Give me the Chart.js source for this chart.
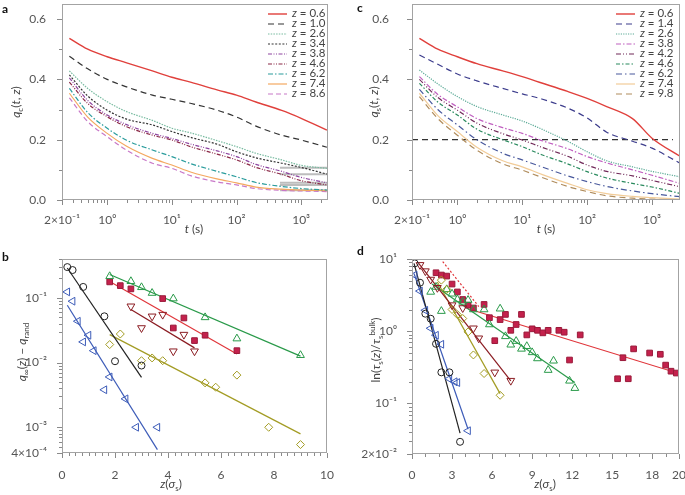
<!DOCTYPE html>
<html>
<head>
<meta charset="utf-8">
<script src="https://cdn.jsdelivr.net/npm/chart.js@4.4.0/dist/chart.umd.min.js"></script>
<style>
body { margin: 0; background: #fff; overflow: hidden; }
#fig { position: relative; width: 685px; height: 495px; font-family: Lato, "Open Sans", sans-serif; color: #444; }
canvas { position: absolute; }
.t { position: absolute; font-size: 12px; white-space: nowrap; transform: translate(-50%, -50%); }
.v { transform: translate(-50%, -50%) rotate(-90deg); }
.t sub, .t sup { font-size: 8px; line-height: 0; }
.p { position: absolute; font-weight: bold; font-size: 12px; color: #111; }
</style>
</head>
<body>
<div id="fig">
  <canvas id="ca" width="342" height="235" style="left:0;top:0"></canvas>
  <canvas id="cc" width="343" height="235" style="left:342px;top:0"></canvas>
  <canvas id="cb" width="342" height="260" style="left:0;top:235px"></canvas>
  <canvas id="cd" width="343" height="260" style="left:342px;top:235px"></canvas>

  <div class="p" style="left:2px;top:1px">a</div>
  <div class="p" style="left:357px;top:0">c</div>
  <div class="p" style="left:2px;top:249px">b</div>
  <div class="p" style="left:357px;top:243px">d</div>

  <div class="t" style="left:194px;top:228px"><i>t</i> (s)</div>
  <div class="t" style="left:546px;top:228px"><i>t</i> (s)</div>
  <div class="t v" style="left:15px;top:102px"><i>q</i><sub>c</sub>(<i>t</i>, <i>z</i>)</div>
  <div class="t v" style="left:373px;top:102px"><i>q</i><sub>s</sub>(<i>t</i>, <i>z</i>)</div>
  <div class="t" style="left:171px;top:483px"><i>z</i>(<i>σ</i><sub>s</sub>)</div>
  <div class="t" style="left:545px;top:483px"><i>z</i>(<i>σ</i><sub>s</sub>)</div>
  <div class="t v" style="left:21px;top:352px"><i>q</i><sub>∞</sub>(<i>z</i>) − <i>q</i><sub>rand</sub></div>
  <div class="t v" style="left:375px;top:350px">ln(<i>τ</i><sub>s</sub>(<i>z</i>)/<i>τ</i><sub>s</sub><sup>bulk</sup>)</div>
</div>

<script>
// ---- panel a : q_c(t, z) ----
const qcT = [0.26, 0.5, 1, 2, 5, 10, 20, 50, 100, 200, 500, 1000, 2500];
const qcZ = [0.6, 1.0, 2.6, 3.4, 3.8, 4.6, 6.2, 7.4, 8.6];
const qc06 = [0.536, 0.50, 0.475, 0.455, 0.428, 0.407, 0.39, 0.365, 0.348, 0.325, 0.297, 0.271, 0.232];
const qc10 = [0.477, 0.435, 0.40, 0.375, 0.348, 0.334, 0.32, 0.298, 0.275, 0.245, 0.215, 0.199, 0.175];
const qc26 = [0.428, 0.37, 0.326, 0.293, 0.264, 0.238, 0.222, 0.197, 0.177, 0.155, 0.133, 0.115, 0.105];
const qc34 = [0.415, 0.345, 0.298, 0.268, 0.249, 0.227, 0.207, 0.185, 0.160, 0.140, 0.122, 0.108, 0.086];
const qc38 = [0.405, 0.33, 0.282, 0.250, 0.221, 0.204, 0.185, 0.163, 0.144, 0.118, 0.095, 0.075, 0.057];
const qc46 = [0.391, 0.32, 0.276, 0.243, 0.215, 0.199, 0.176, 0.152, 0.133, 0.108, 0.085, 0.064, 0.050];
const qc62 = [0.370, 0.29, 0.238, 0.198, 0.166, 0.144, 0.120, 0.095, 0.077, 0.058, 0.045, 0.038, 0.033];
const qc74 = [0.354, 0.275, 0.221, 0.178, 0.138, 0.116, 0.092, 0.070, 0.057, 0.043, 0.036, 0.033, 0.031];
const qc86 = [0.339, 0.26, 0.21, 0.165, 0.122, 0.105, 0.080, 0.060, 0.050, 0.038, 0.032, 0.030, 0.028];
const qcPlateauT = [470, 2500];
const qcPlateau = [0.107, 0.085, 0.057, 0.050, 0.032];

// ---- panel c : q_s(t, z) ----
const qsT = [0.26, 0.5, 1, 2, 5, 10, 20, 50, 100, 200, 500, 1000, 2700];
const qsZ = [0.6, 1.4, 2.6, 3.8, 4.2, 4.6, 6.2, 7.4, 9.8];
const qs06 = [0.536, 0.50, 0.475, 0.452, 0.428, 0.409, 0.388, 0.36, 0.337, 0.31, 0.27, 0.205, 0.145];
const qs14 = [0.481, 0.45, 0.418, 0.395, 0.37, 0.352, 0.335, 0.305, 0.272, 0.225, 0.195, 0.172, 0.122];
const qs26 = [0.431, 0.385, 0.343, 0.31, 0.282, 0.262, 0.235, 0.195, 0.16, 0.13, 0.11, 0.095, 0.077];
const qs38 = [0.409, 0.35, 0.309, 0.27, 0.24, 0.221, 0.197, 0.17, 0.144, 0.123, 0.10, 0.082, 0.055];
const qs42 = [0.40, 0.34, 0.298, 0.255, 0.22, 0.199, 0.175, 0.145, 0.116, 0.095, 0.08, 0.065, 0.044];
const qs46 = [0.387, 0.325, 0.282, 0.235, 0.20, 0.177, 0.15, 0.12, 0.094, 0.073, 0.055, 0.043, 0.022];
const qs62 = [0.367, 0.30, 0.249, 0.20, 0.155, 0.133, 0.11, 0.08, 0.061, 0.045, 0.03, 0.021, 0.011];
const qs74 = [0.354, 0.28, 0.227, 0.175, 0.13, 0.11, 0.085, 0.055, 0.034, 0.021, 0.012, 0.008, 0.003];
const qs98 = [0.343, 0.27, 0.215, 0.165, 0.12, 0.099, 0.075, 0.045, 0.028, 0.014, 0.006, 0.003, 0.001];
const qsRefT = [0.2, 2100];
const qsRef = [0.2, 0.2];

// ---- panel b : q_inf(z) - q_rand ----
const bCircZ = [0.2, 0.4, 0.8, 1.6, 2.0, 3.0];
const bCircQ = [0.30, 0.27, 0.148, 0.052, 0.0105, 0.009];
const bLeftZ = [0.2, 0.4, 0.6, 0.8, 1.0, 1.2, 1.6, 1.8, 2.4, 2.8, 3.6];
const bLeftQ = [0.124, 0.089, 0.0436, 0.0209, 0.0265, 0.0153, 0.0038, 0.006, 0.00275, 0.001, 0.001];
const bUpZ = [1.8, 2.6, 3.0, 3.4, 4.2, 5.4, 6.6, 9.0];
const bUpQ = [0.216, 0.181, 0.146, 0.119, 0.0977, 0.050, 0.0235, 0.013];
const bSqZ = [1.8, 2.2, 2.6, 3.8, 4.2, 4.6, 5.0, 5.4, 6.6];
const bSqQ = [0.177, 0.155, 0.138, 0.0977, 0.0343, 0.049, 0.0219, 0.0265, 0.0153];
const bDownZ = [2.6, 3.0, 3.4, 3.8, 4.2, 4.6, 5.0];
const bDownQ = [0.0743, 0.0343, 0.052, 0.0552, 0.015, 0.0271, 0.015];
const bDiaZ = [1.8, 2.2, 3.0, 3.4, 3.8, 5.4, 5.8, 6.6, 7.8, 9.0];
const bDiaQ = [0.019, 0.0277, 0.0107, 0.0118, 0.0107, 0.00486, 0.00416, 0.0064, 0.001, 0.00054];
const bCircFitZ = [0.2, 3.0], bCircFit = [0.29, 0.0059];
const bLeftFitZ = [0.2, 3.6], bLeftFit = [0.077, 0.00045];
const bUpFitZ = [1.8, 9.0], bUpFit = [0.23, 0.0126];
const bSqFitZ = [1.8, 6.6], bSqFit = [0.18, 0.0136];
const bDownFitZ = [2.6, 5.0], bDownFit = [0.066, 0.0169];
const bDiaFitZ = [1.8, 9.0], bDiaFit = [0.0271, 0.00079];

// ---- panel d : ln(tau_s(z)/tau_s^bulk) ----
const dCircZ = [0.2, 0.6, 1.0, 1.4, 1.8, 2.2, 2.8, 3.6];
const dCircV = [8.7, 4.7, 1.75, 1.49, 0.67, 0.27, 0.27, 0.0295];
const dLeftZ = [0.2, 0.6, 1.0, 1.4, 1.8, 2.2, 2.8, 3.2, 3.4, 4.2];
const dLeftV = [6.0, 3.6, 1.95, 1.1, 0.88, 0.66, 0.22, 0.2, 0.195, 0.042];
const dDownZ = [0.6, 1.0, 1.4, 1.9, 3.0, 3.8, 4.6, 5.0, 6.2, 7.4];
const dDownV = [8.3, 6.8, 5.2, 4.0, 2.3, 2.1, 1.1, 0.8, 0.27, 0.207];
const dDiaZ = [2.2, 2.6, 3.0, 3.4, 3.8, 4.2, 4.6, 5.4, 6.6];
const dDiaV = [5.1, 3.8, 2.0, 1.7, 1.5, 0.98, 0.47, 0.26, 0.13];
const dUpZ = [1.4, 1.8, 2.2, 2.6, 3.0, 3.4, 3.8, 4.2, 4.6, 5.4, 5.8, 6.6, 7.0, 7.4, 7.8, 8.2, 8.6, 9.0, 9.4, 10.2, 10.6, 11.8, 12.2];
const dUpV = [3.5, 4.1, 1.9, 3.8, 3.3, 2.75, 2.55, 2.7, 2.0, 2.0, 1.24, 2.05, 0.85, 0.65, 0.73, 0.57, 0.62, 0.51, 0.42, 0.29, 0.39, 0.206, 0.163];
const dSqZ = [1.8, 2.2, 2.6, 3.0, 3.4, 3.8, 4.2, 4.6, 5.4, 5.8, 6.2, 6.6, 7.0, 7.4, 7.8, 8.2, 8.6, 9.0, 9.4, 9.8, 10.2, 11.0, 11.4, 11.8, 12.6, 15.4, 15.8, 16.2, 16.6, 17.8, 18.6, 19.0, 19.4, 19.8];
const dSqV = [6.45, 6.0, 5.8, 4.5, 3.5, 2.75, 2.3, 2.1, 2.35, 1.54, 0.74, 1.45, 1.71, 1.03, 1.24, 1.71, 0.89, 1.08, 1.03, 0.95, 1.03, 1.03, 0.97, 0.40, 0.89, 0.22, 0.43, 0.22, 0.57, 0.50, 0.48, 0.34, 0.28, 0.264];
const dCircFitZ = [0.15, 3.6], dCircFit = [8.7, 0.039];
const dLeftFitZ = [0.15, 4.2], dLeftFit = [6.3, 0.044];
const dDownFitZ = [0.5, 7.4], dDownFit = [8.7, 0.206];
const dDiaFitZ = [1.9, 6.6], dDiaFit = [4.8, 0.137];
const dUpFitZ = [1.5, 12.2], dUpFit = [4.5, 0.195];
const dSqFitZ = [4.2, 20], dSqFit = [2.05, 0.26];
const dSqDotZ = [2.3, 5.0], dSqDot = [9.2, 2.2];

// ---- ticks ----
const tTicks = [0.2, 1, 10, 100, 1000];
const tLabels = ['2×10⁻¹', '10⁰', '10¹', '10²', '10³'];
const qTicks = [0, 0.2, 0.4, 0.6];
const qLabels = ['0.0', '0.2', '0.4', '0.6'];
const bxTicks = [0, 2, 4, 6, 8, 10];
const byTicks = [0.0004, 0.001, 0.01, 0.1];
const byLabels = ['4×10⁻⁴', '10⁻³', '10⁻²', '10⁻¹'];
const dxTicks = [0, 3, 6, 9, 12, 15, 18, 20];
const dyTicks = [0.02, 0.1, 1, 10];
const dyLabels = ['2×10⁻²', '10⁻¹', '10⁰', '10¹'];

Chart.defaults.font.family = 'Lato, "Open Sans", sans-serif';
Chart.defaults.color = '#555';

const pts = (xs, ys) => xs.map((x, i) => ({ x, y: ys[i] }));

// minor tick positions on log axes
function logMinor(lo, hi) {
  const out = [];
  for (let d = lo; d <= hi; d *= 10) for (let m = 2; m <= 9; m++) out.push(m * d);
  return out;
}
function linMinor(max, step) {
  const out = [];
  for (let i = 0; i * step <= max + 1e-9; i++) out.push(+(i * step).toFixed(3));
  return out;
}

const frame = {
  id: 'frame',
  afterDraw(chart, args, o) {
    const { ctx, chartArea: a, scales: { x, y } } = chart;
    ctx.save();
    ctx.strokeStyle = '#a3a3a3';
    ctx.lineWidth = 1;
    ctx.strokeRect(Math.round(a.left) + 0.5, Math.round(a.top) + 0.5, Math.round(a.right - a.left) - 1, Math.round(a.bottom - a.top) - 1);
    ctx.strokeStyle = '#8a8a8a';
    ctx.beginPath();
    const mark = (axis, list, len) => list.forEach(v => {
      if (v < axis.min - 1e-12 || v > axis.max + 1e-12) return;
      const p = Math.round(axis.getPixelForValue(v)) + 0.5;
      if (axis === x) { ctx.moveTo(p, a.bottom); ctx.lineTo(p, a.bottom + len); }
      else { ctx.moveTo(a.left, p); ctx.lineTo(a.left - len, p); }
    });
    mark(x, o.xMinor, 3); mark(x, o.xMajor, 5);
    mark(y, o.yMinor, 3); mark(y, o.yMajor, 5);
    ctx.stroke();
    ctx.restore();
  }
};

const key = {
  id: 'key',
  afterDraw(chart, args, o) {
    if (o.x == null) return;
    const ctx = chart.ctx;
    let y = o.y;
    chart.data.datasets.filter(d => d.key).forEach(d => {
      ctx.save();
      ctx.strokeStyle = d.borderColor;
      ctx.lineWidth = d.borderWidth;
      ctx.setLineDash(d.borderDash || []);
      ctx.beginPath();
      ctx.moveTo(o.x, y + 0.5);
      ctx.lineTo(o.x + 19, y + 0.5);
      ctx.stroke();
      ctx.setLineDash([]);
      ctx.fillStyle = '#444';
      ctx.textBaseline = 'middle';
      ctx.font = 'italic 11.5px Lato, sans-serif';
      ctx.fillText('z', o.x + 24, y);
      const w = ctx.measureText('z').width;
      ctx.font = '11.5px Lato, sans-serif';
      ctx.fillText(' = ' + d.label, o.x + 24 + w, y);
      ctx.restore();
      y += o.dy;
    });
  }
};

function axis(type, min, max, vals, labels, size, pad) {
  return {
    type, min, max,
    grid: { display: false },
    border: { display: false },
    afterBuildTicks: s => { s.ticks = vals.map(v => ({ value: v })); },
    ticks: {
      autoSkip: false, maxRotation: 0, padding: pad, color: '#555',
      font: { size: 12 },
      callback: (v, i) => labels[i]
    },
    afterFit: s => {
      s.paddingLeft = s.paddingRight = s.paddingTop = s.paddingBottom = 0;
      if (s.isHorizontal()) s.height = size; else s.width = size;
    }
  };
}

function curve(label, xs, ys, color, dash, width) {
  return {
    label, key: true, data: pts(xs, ys), showLine: true,
    borderColor: color, borderDash: dash, borderWidth: width || 1.2,
    pointRadius: 0, cubicInterpolationMode: 'monotone'
  };
}
function seg(xs, ys, color, dash, width) {
  return { data: pts(xs, ys), showLine: true, borderColor: color, borderDash: dash || [], borderWidth: width || 1.2, pointRadius: 0 };
}
function marks(xs, ys, color, style, rot, r, fill) {
  return {
    data: pts(xs, ys), showLine: false, pointStyle: style, pointRotation: rot,
    pointRadius: r, borderColor: color, backgroundColor: fill || 'rgba(0,0,0,0)',
    pointBorderWidth: 1, borderWidth: 1
  };
}

function make(id, datasets, scales, layout, frameOpts, keyOpts) {
  new Chart(document.getElementById(id), {
    type: 'scatter',
    data: { datasets },
    options: {
      responsive: false, animation: false, events: [],
      layout: { padding: layout },
      scales,
      plugins: { legend: { display: false }, tooltip: { enabled: false }, frame: frameOpts, key: keyOpts || {} }
    },
    plugins: [frame, key]
  });
}

// panel a
const qcSeries = [qc06, qc10, qc26, qc34, qc38, qc46, qc62, qc74, qc86];
const qcStyle = [
  ['#e0403c', [], 1.4], ['#333333', [6, 4]], ['#78bba0', [1.5, 1.2]], ['#333333', [2, 1.6]],
  ['#8e44a0', [4, 1.5, 1, 1.5, 1, 1.5]], ['#8a2846', [4, 1.5, 1, 1.5, 1, 1.5]],
  ['#2a9c9c', [5, 2, 1.5, 2]], ['#f4a860', []], ['#c878c8', [5, 3]]
];
const aSets = qcSeries.map((s, i) => curve(qcZ[i].toFixed(1), qcT, s, qcStyle[i][0], qcStyle[i][1], qcStyle[i][2]));
qcPlateau.forEach(v => aSets.push(seg(qcPlateauT, [v, v], '#bdbdbd', [], 2)));
make('ca', aSets, {
  x: axis('logarithmic', 0.2, 2600, tTicks, tLabels, 35, 5),
  y: axis('linear', 0, 0.65, qTicks, qLabels, 62, 8)
}, { left: 0, right: 14, top: 4, bottom: 0 },
{ xMajor: tTicks, xMinor: logMinor(0.1, 1000), yMajor: qTicks, yMinor: [0.1, 0.3, 0.5] },
{ x: 268, y: 13.5, dy: 10 });

// panel c
const qsSeries = [qs06, qs14, qs26, qs38, qs42, qs46, qs62, qs74, qs98];
const qsStyle = [
  ['#e0403c', [], 1.4], ['#3c3c8c', [6, 4]], ['#5aaa96', [1.2, 1.2]], ['#c060c0', [5, 2, 1.5, 2]],
  ['#702858', [5, 2, 1, 2, 1, 2]], ['#2a8a5e', [4, 2, 1.5, 2]], ['#48589c', [6, 3, 1.5, 3]],
  ['#f2cc98', []], ['#b08c5c', [6, 4]]
];
const cSets = qsSeries.map((s, i) => curve(qsZ[i].toFixed(1), qsT, s, qsStyle[i][0], qsStyle[i][1], qsStyle[i][2]));
cSets.push(seg(qsRefT, qsRef, '#333333', [6, 4], 1.2));
make('cc', cSets, {
  x: axis('logarithmic', 0.2, 2700, tTicks, tLabels, 35, 5),
  y: axis('linear', 0, 0.65, qTicks, qLabels, 70, 15)
}, { left: 0, right: 5, top: 4, bottom: 0 },
{ xMajor: tTicks, xMinor: logMinor(0.1, 1000), yMajor: qTicks, yMinor: [0.1, 0.3, 0.5] },
{ x: 274, y: 13.5, dy: 10 });

// panel b
const cBlack = '#222222', cBlue = '#3d5cb8', cGreen = '#2a9a4a', cRed = '#e0353a', cSq = '#c4214c', cDark = '#8b1c22', cOlive = '#a39c24';
make('cb', [
  marks(bCircZ, bCircQ, cBlack, 'circle', 0, 3.5),
  marks(bLeftZ, bLeftQ, cBlue, 'triangle', -90, 4.5),
  marks(bUpZ, bUpQ, cGreen, 'triangle', 0, 4.5),
  marks(bSqZ, bSqQ, '#9a1a3a', 'rect', 0, 4, cSq),
  marks(bDownZ, bDownQ, cDark, 'triangle', 180, 4.5),
  marks(bDiaZ, bDiaQ, cOlive, 'rectRot', 0, 4),
  seg(bCircFitZ, bCircFit, cBlack), seg(bLeftFitZ, bLeftFit, cBlue), seg(bUpFitZ, bUpFit, cGreen),
  seg(bSqFitZ, bSqFit, cRed), seg(bDownFitZ, bDownFit, cDark), seg(bDiaFitZ, bDiaFit, cOlive)
], {
  x: axis('linear', 0, 10, bxTicks, bxTicks.map(String), 42, 7),
  y: axis('logarithmic', 0.0004, 0.4, byTicks, byLabels, 62, 7)
}, { left: 0, right: 15, top: 24, bottom: 0 },
{ xMajor: bxTicks, xMinor: linMinor(10, 0.25), yMajor: byTicks, yMinor: logMinor(0.0001, 0.1) });

// panel d
make('cd', [
  marks(dCircZ, dCircV, cBlack, 'circle', 0, 3.5),
  marks(dLeftZ, dLeftV, cBlue, 'triangle', -90, 4.5),
  marks(dDownZ, dDownV, cDark, 'triangle', 180, 4.5),
  marks(dDiaZ, dDiaV, cOlive, 'rectRot', 0, 4),
  marks(dUpZ, dUpV, cGreen, 'triangle', 0, 4.5),
  marks(dSqZ, dSqV, '#9a1a3a', 'rect', 0, 4, cSq),
  seg(dCircFitZ, dCircFit, cBlack), seg(dLeftFitZ, dLeftFit, cBlue), seg(dDownFitZ, dDownFit, cDark),
  seg(dDiaFitZ, dDiaFit, cOlive), seg(dUpFitZ, dUpFit, cGreen), seg(dSqFitZ, dSqFit, cRed),
  seg(dSqDotZ, dSqDot, cRed, [2, 2])
], {
  x: axis('linear', 0, 20, dxTicks, dxTicks.map(String), 41, 6),
  y: axis('logarithmic', 0.02, 10, dyTicks, dyLabels, 70, 7)
}, { left: 0, right: 6, top: 24, bottom: 0 },
{ xMajor: dxTicks, xMinor: linMinor(20, 1), yMajor: dyTicks, yMinor: logMinor(0.01, 1) });
</script>
</body>
</html>
